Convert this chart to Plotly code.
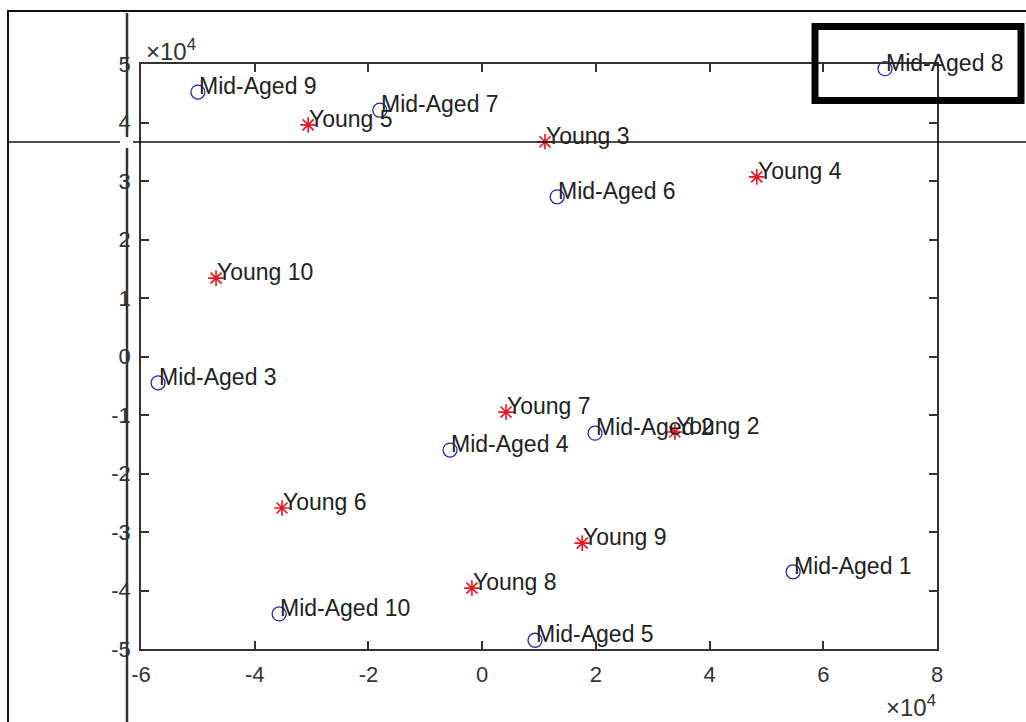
import plotly.graph_objects as go

# Projected coordinates of each subject (raw units; axes are labelled in 10^4)
mid_labels = ["Mid-Aged 1", "Mid-Aged 2", "Mid-Aged 3", "Mid-Aged 4", "Mid-Aged 5",
              "Mid-Aged 6", "Mid-Aged 7", "Mid-Aged 8", "Mid-Aged 9", "Mid-Aged 10"]
mid_x = [54700, 19850, -57000, -5650, 9300, 13200, -18000, 70850, -50000, -35700]
mid_y = [-36800, -13100, -4500, -16000, -48500, 27300, 42100, 49200, 45200, -44000]

young_labels = ["Young 2", "Young 3", "Young 4", "Young 5", "Young 6",
                "Young 7", "Young 8", "Young 9", "Young 10"]
young_x = [33900, 11050, 48300, -30600, -35200, 4200, -1800, 17600, -46800]
young_y = [-12900, 36700, 30700, 39600, -25900, -9500, -39600, -31900, 13400]

x_ticks = [-60000, -40000, -20000, 0, 20000, 40000, 60000, 80000]
x_ticktext = ["-6", "-4", "-2", "0", "2", "4", "6", "8"]
y_ticks = [-50000, -40000, -30000, -20000, -10000, 0, 10000, 20000, 30000, 40000, 50000]
y_ticktext = ["-5", "-4", "-3", "-2", "-1", "0", "1", "2", "3", "4", "5"]

W, H = 1026, 722
L, R, T, B = 141, 89, 64, 73
PW, PH = W - L - R, H - T - B

FONT = "Liberation Sans, Arial, Helvetica, sans-serif"
AX = "#333333"


def px(x):
    """Pixel column -> paper x."""
    return (x - L) / PW


def py(y):
    """Pixel row -> paper y."""
    return (H - B - y) / PH


fig = go.Figure()

fig.add_trace(go.Scatter(
    x=mid_x, y=mid_y, mode="markers", name="Mid-Aged",
    marker=dict(symbol="circle-open", size=14, color="#2626b0",
                line=dict(width=1.3, color="#2626b0")),
    cliponaxis=False, showlegend=False, hoverinfo="text", text=mid_labels,
))
fig.add_trace(go.Scatter(
    x=young_x, y=young_y, mode="markers", name="Young",
    marker=dict(symbol="asterisk-open", size=13, color="#e8141e",
                line=dict(width=1.6, color="#e8141e")),
    cliponaxis=False, showlegend=False, hoverinfo="text", text=young_labels,
))

annotations = []
for lx, ly, lab in list(zip(mid_x, mid_y, mid_labels)) + list(zip(young_x, young_y, young_labels)):
    annotations.append(dict(
        x=lx, y=ly, xref="x", yref="y", text=lab, showarrow=False,
        xanchor="left", yanchor="middle", xshift=-1, yshift=6,
        font=dict(family=FONT, size=23, color="#222222"),
    ))

# exponent labels for both axes
annotations.append(dict(
    x=0, y=1, xref="paper", yref="paper", text="×10<sup>4</sup>", showarrow=False,
    xanchor="left", yanchor="bottom", xshift=3, yshift=-3,
    font=dict(family=FONT, size=24, color=AX),
))
annotations.append(dict(
    x=1, y=0, xref="paper", yref="paper", text="×10<sup>4</sup>", showarrow=False,
    xanchor="right", yanchor="top", xshift=1, yshift=-40,
    font=dict(family=FONT, size=24, color=AX),
))

shapes = [
    # outer frame
    dict(type="rect", xref="paper", yref="paper",
         x0=px(8), x1=px(1040), y0=py(11), y1=py(740),
         line=dict(color="#111111", width=2), layer="above"),
    # horizontal guide line with a gap at the crossing
    dict(type="line", xref="paper", yref="paper",
         x0=px(8), x1=px(120), y0=py(142), y1=py(142),
         line=dict(color="#111111", width=1.5), layer="above"),
    dict(type="line", xref="paper", yref="paper",
         x0=px(133), x1=px(1030), y0=py(142), y1=py(142),
         line=dict(color="#111111", width=1.5), layer="above"),
    # vertical guide line with a gap at the crossing
    dict(type="line", xref="paper", yref="paper",
         x0=px(127), x1=px(127), y0=py(13), y1=py(137),
         line=dict(color="#333333", width=2.5), layer="above"),
    dict(type="line", xref="paper", yref="paper",
         x0=px(127), x1=px(127), y0=py(148), y1=py(730),
         line=dict(color="#333333", width=2.5), layer="above"),
    # highlight box
    dict(type="rect", xref="paper", yref="paper",
         x0=px(815), x1=px(1021), y0=py(26.5), y1=py(100.5),
         line=dict(color="#000000", width=7), layer="above"),
]

axis_common = dict(
    showline=True, linecolor=AX, linewidth=1.5, mirror="ticks",
    ticks="inside", ticklen=8, tickwidth=1.5, tickcolor=AX,
    showgrid=False, zeroline=False,
    tickfont=dict(family=FONT, size=22, color=AX),
)

fig.update_layout(
    width=W, height=H,
    margin=dict(l=L, r=R, t=T, b=B, pad=0),
    paper_bgcolor="white", plot_bgcolor="white",
    xaxis=dict(range=[-60000, 80000], tickmode="array", tickvals=x_ticks,
               ticktext=x_ticktext, ticklabelstandoff=5, **axis_common),
    yaxis=dict(range=[-50000, 50000], tickmode="array", tickvals=y_ticks,
               ticktext=y_ticktext, ticklabelstandoff=4, **axis_common),
    annotations=annotations,
    shapes=shapes,
    showlegend=False,
)

fig.write_html("out.html")
